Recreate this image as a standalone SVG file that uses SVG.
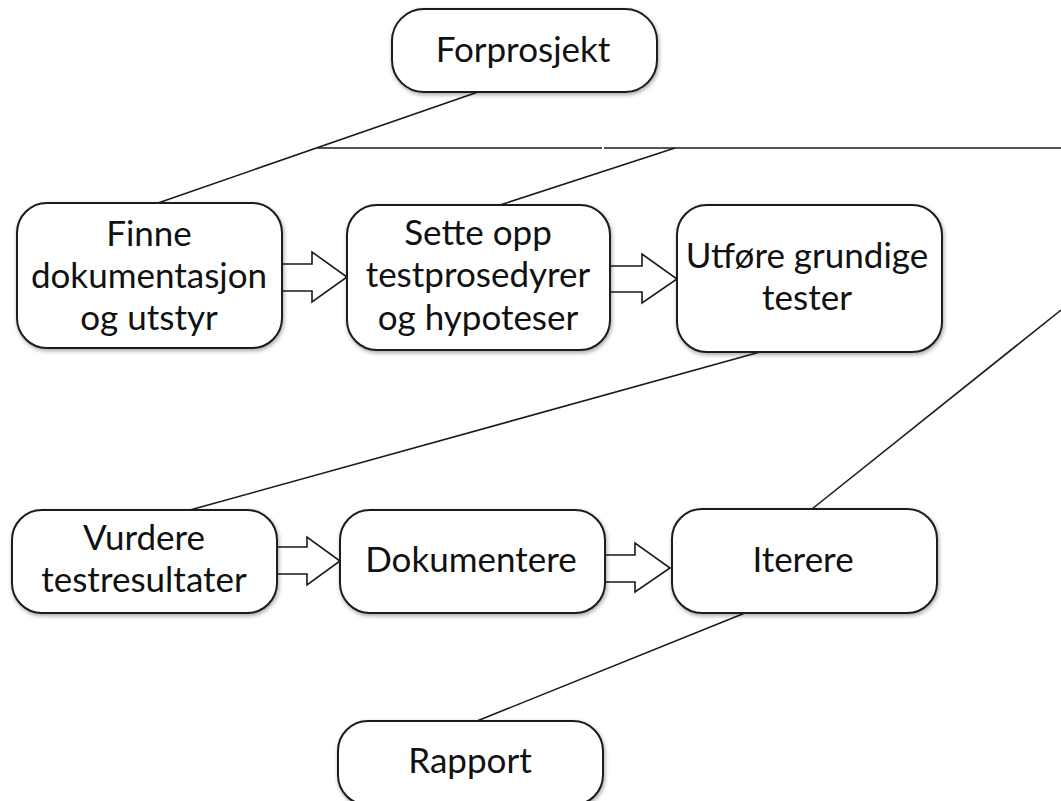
<svg xmlns="http://www.w3.org/2000/svg" width="1061" height="801" viewBox="0 0 1061 801">
  <style>
    .box { fill: #ffffff; stroke: #1a1a1a; stroke-width: 2; filter: url(#shadow); }
    .lbl { font-family: Lato, "Open Sans", "Liberation Sans", sans-serif; font-size: 35px; fill: #111111; text-anchor: middle; }
    .conn { stroke: #1a1a1a; stroke-width: 1.6; fill: none; }
    .flow { fill: #ffffff; stroke: #1a1a1a; stroke-width: 1.6; stroke-linejoin: miter; }
  </style>
  <defs>
    <filter id="shadow" x="-10%" y="-10%" width="125%" height="130%">
      <feGaussianBlur in="SourceAlpha" stdDeviation="2"/>
      <feOffset dx="1" dy="2" result="blur"/>
      <feComponentTransfer><feFuncA type="linear" slope="0.35"/></feComponentTransfer>
      <feMerge><feMergeNode/><feMergeNode in="SourceGraphic"/></feMerge>
    </filter>
  </defs>
  <rect width="1061" height="801" fill="#ffffff"/>

  <!-- tree connectors -->
  <g id="connectors">
    <line class="conn" x1="478" y1="92" x2="158" y2="203"/>
    <line class="conn" x1="317" y1="148" x2="602" y2="148"/>
    <line class="conn" x1="604" y1="148" x2="1061" y2="148"/>
    <line class="conn" x1="675" y1="148" x2="500" y2="205"/>
    <line class="conn" x1="760" y1="352" x2="190" y2="510"/>
    <line class="conn" x1="812" y1="509" x2="1061" y2="310"/>
    <line class="conn" x1="745" y1="613" x2="477" y2="721"/>
    <!-- block arrows between steps -->
    <polygon class="flow" points="282,264 312,264 312,252 347,277 312,302 312,291 282,291"/>
    <polygon class="flow" points="610,266 642,266 642,254 677,279 642,303 642,292 610,292"/>
    <polygon class="flow" points="277,547 307,547 307,537 340,561 307,585 307,574 277,574"/>
    <polygon class="flow" points="605,555 635,555 635,543 670,568 635,592 635,582 605,582"/>
  </g>

  <g id="forprosjekt">
    <rect class="box" x="392" y="9" width="265" height="83" rx="32"/>
    <text class="lbl" x="523" y="62">Forprosjekt</text>
  </g>

  <g id="finne">
    <rect class="box" x="17" y="203" width="265" height="145" rx="30"/>
    <text class="lbl" x="149" y="246">Finne</text>
    <text class="lbl" x="149" y="288">dokumentasjon</text>
    <text class="lbl" x="149" y="330">og utstyr</text>
  </g>

  <g id="sette-opp">
    <rect class="box" x="347" y="205" width="263" height="145" rx="30"/>
    <text class="lbl" x="478" y="245">Sette opp</text>
    <text class="lbl" x="478" y="287">testprosedyrer</text>
    <text class="lbl" x="478" y="330">og hypoteser</text>
  </g>

  <g id="utfore">
    <rect class="box" x="677" y="205" width="265" height="147" rx="30"/>
    <text class="lbl" x="807" y="268">Utføre grundige</text>
    <text class="lbl" x="807" y="310">tester</text>
  </g>

  <g id="vurdere">
    <rect class="box" x="12" y="510" width="265" height="103" rx="30"/>
    <text class="lbl" x="144" y="550">Vurdere</text>
    <text class="lbl" x="144" y="592">testresultater</text>
  </g>

  <g id="dokumentere">
    <rect class="box" x="340" y="510" width="265" height="103" rx="30"/>
    <text class="lbl" x="471" y="572">Dokumentere</text>
  </g>

  <g id="iterere">
    <rect class="box" x="672" y="509" width="265" height="104" rx="30"/>
    <text class="lbl" x="803" y="572">Iterere</text>
  </g>

  <g id="rapport">
    <rect class="box" x="338" y="721" width="265" height="84" rx="30"/>
    <text class="lbl" x="470" y="773">Rapport</text>
  </g>
</svg>
